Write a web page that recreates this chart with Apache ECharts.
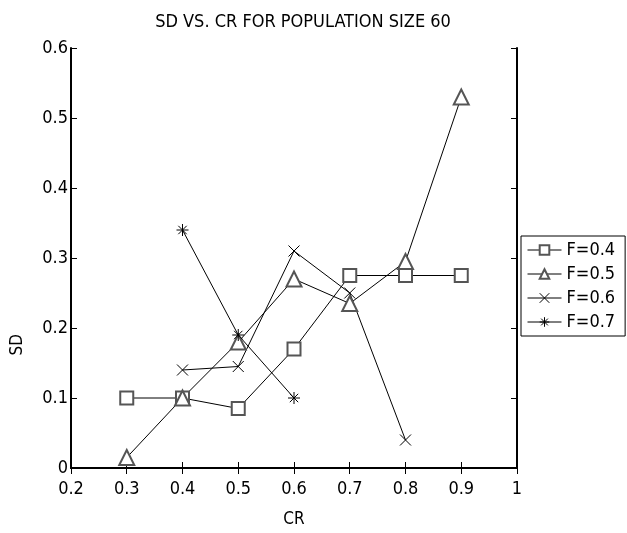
<!DOCTYPE html>
<html>
<head>
<meta charset="utf-8">
<script src="https://cdn.jsdelivr.net/npm/echarts@6/dist/echarts.min.js"></script>
<style>
  html, body { margin: 0; padding: 0; background: #fff; }
  #chart { width: 627px; height: 533px; }
</style>
</head>
<body>
<div id="chart"></div>
<script>
// data
const cr = [0.3, 0.4, 0.5, 0.6, 0.7, 0.8, 0.9];
const f04 = [0.1, 0.1, 0.085, 0.17, 0.275, 0.275, 0.275];
const f05 = [0.015, 0.1, 0.18, 0.27, 0.235, 0.295, 0.53];
const f06 = [null, 0.14, 0.145, 0.31, 0.25, 0.04, null];
const f07 = [null, 0.34, 0.19, 0.1, null, null, null];
const names = ["F=0.4", "F=0.5", "F=0.6", "F=0.7"];

const font = "DejaVu Sans Condensed";
const crossPath = "path://M0,0L10,10M10,0L0,10";
const starPath = "path://M5,0L5,10M0,5L10,5M1.5,1.5L8.5,8.5M8.5,1.5L1.5,8.5";

function pairs(vals) {
  const out = [];
  vals.forEach((v, i) => { if (v !== null) out.push([cr[i], v]); });
  return out;
}

function mkSeries(name, vals, symbol, size, hollowPath) {
  return {
    name: name,
    type: "line",
    data: pairs(vals),
    symbol: symbol,
    symbolSize: size,
    lineStyle: { color: "#000", width: 1 },
    itemStyle: hollowPath
      ? { color: "none", borderColor: "#000", borderWidth: 1 }
      : { color: "#555", borderColor: "#555", borderWidth: 1 },
    emphasis: { disabled: true },
    animation: false
  };
}

const chart = echarts.init(document.getElementById("chart"));
chart.setOption({
  backgroundColor: "#fff",
  title: {
    text: "SD VS. CR FOR POPULATION SIZE 60",
    left: 298,
    top: 8,
    textAlign: "center",
    textStyle: { fontFamily: font, fontSize: 18, fontWeight: "normal", color: "#000" }
  },
  graphic: [{
    type: "text",
    left: 9,
    top: 334,
    rotation: Math.PI / 2,
    style: { text: "SD", font: "17px DejaVu Sans Condensed", fill: "#000" }
  }],
  grid: { left: 71, right: 110, top: 48, bottom: 63 },
  legend: {
    orient: "vertical",
    left: 521,
    top: 236,
    data: names,
    backgroundColor: "#fff",
    borderColor: "#000",
    borderWidth: 1,
    borderRadius: 0,
    padding: [5, 10, 5, 6],
    itemGap: 6,
    itemWidth: 34,
    itemHeight: 12,
    lineStyle: { width: 1 },
    itemStyle: { borderWidth: 1 },
    textStyle: { fontFamily: font, fontSize: 18, color: "#000" }
  },
  xAxis: [{
    type: "value",
    min: 0.2, max: 1, interval: 0.1,
    name: "CR",
    nameLocation: "middle",
    nameGap: 43,
    nameTextStyle: { fontFamily: font, fontSize: 17, color: "#000" },
    axisLine: { lineStyle: { color: "#000", width: 2 } },
    axisTick: { inside: true, length: 6, lineStyle: { color: "#000" } },
    axisLabel: { fontFamily: font, fontSize: 18, color: "#000", margin: 12,
      formatter: v => String(+v.toFixed(1)) },
    splitLine: { show: false }
  }, {
    type: "value",
    position: "top",
    min: 0.2, max: 1, interval: 0.1,
    axisLine: { lineStyle: { color: "#000", width: 2 } },
    axisTick: { inside: true, length: 6, lineStyle: { color: "#000" } },
    axisLabel: { show: false },
    splitLine: { show: false }
  }],
  yAxis: [{
    type: "value",
    min: 0, max: 0.6, interval: 0.1,
    axisLine: { show: true, lineStyle: { color: "#000", width: 2 } },
    axisTick: { show: true, inside: true, length: 6, lineStyle: { color: "#000" } },
    axisLabel: { fontFamily: font, fontSize: 18, color: "#000", margin: 3,
      formatter: v => String(+v.toFixed(1)) },
    splitLine: { show: false }
  }, {
    type: "value",
    position: "right",
    min: 0, max: 0.6, interval: 0.1,
    axisLine: { show: true, lineStyle: { color: "#000", width: 2 } },
    axisTick: { show: true, inside: true, length: 6, lineStyle: { color: "#000" } },
    axisLabel: { show: false },
    splitLine: { show: false }
  }],
  series: [
    mkSeries(names[0], f04, "emptyRect", 13, false),
    mkSeries(names[1], f05, "emptyTriangle", 15, false),
    mkSeries(names[2], f06, crossPath, 11, true),
    mkSeries(names[3], f07, starPath, 12, true)
  ]
});
</script>
</body>
</html>
